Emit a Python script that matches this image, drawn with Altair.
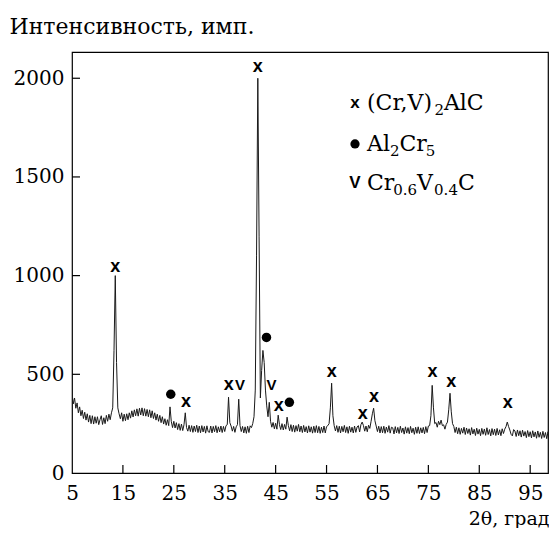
import altair as alt
import pandas as pd

# --- XRD pattern, intensities at 0.25 degree steps, by segment start angle ---
segments = [
    (5.0, [405, 350, 380, 328, 355, 305, 335, 290, 318, 276, 308, 268]),
    (8.0, [300, 258, 292, 250, 290, 248, 285, 252]),
    (10.0, [285, 245, 270, 290, 246, 280, 250, 292]),
    (12.0, [262, 298, 270, 305, 330, 620, 1000, 560, 330, 300]),
    (14.5, [275, 305, 262, 298, 265, 300]),
    (16.0, [270, 305, 278, 315, 284, 320, 290, 325]),
    (18.0, [288, 328, 294, 330, 290, 326, 288, 322]),
    (20.0, [285, 320, 280, 315, 276, 305, 268, 298]),
    (22.0, [262, 292, 255, 285, 248, 275, 242, 270]),
    (24.0, [240, 335, 262, 230]),
    (25.0, [262, 228, 255, 220, 250, 216, 248, 215]),
    (27.0, [245, 305, 230, 212]),
    (28.0, [242, 210, 240, 206, 238, 210, 242, 205]),
    (30.0, [238, 204, 240, 208, 236, 202, 239, 209]),
    (32.0, [206, 238, 203, 236, 209, 240, 204, 234]),
    (34.0, [208, 238, 205, 236, 210, 240, 245, 384, 255, 238, 212, 236, 206, 234, 245, 374, 240, 210]),
    (38.5, [236, 203, 234, 201, 237, 205, 239, 230]),
    (40.5, [250, 285, 420, 1100, 2000, 1200, 380, 520, 621, 560, 420, 340, 285, 358, 262,
            232, 256, 224, 252, 222, 293, 245, 220, 250, 218, 246, 222, 283, 240, 214]),
    (48.0, [245, 210, 242, 207, 240, 212, 246, 209]),
    (50.0, [238, 205, 241, 208, 235, 203, 239, 207]),
    (52.0, [234, 202, 237, 205, 240, 204, 236, 201]),
    (54.0, [232, 205, 238, 203, 235, 240, 250, 330, 455, 290, 240, 213]),
    (57.0, [240, 206, 237, 203, 236, 209, 241, 205]),
    (59.0, [234, 201, 237, 207, 232, 203, 238, 206]),
    (61.0, [233, 240, 208, 245, 258, 240, 212, 238, 209, 242, 226, 262, 300, 328, 265, 238, 210, 237, 203, 235]),
    (66.0, [204, 237, 201, 233, 207, 240, 202, 232]),
    (68.0, [229, 198, 235, 203, 231, 200, 237, 205]),
    (70.0, [228, 197, 234, 202, 230, 199, 236, 204]),
    (72.0, [227, 196, 232, 201, 234, 200, 229, 203]),
    (74.0, [231, 199, 235, 205, 238, 240, 290, 444, 330, 250, 256, 232, 262, 245, 268, 240, 244, 222,
            246, 258, 320, 404, 310, 250, 236, 205, 232, 199]),
    (81.0, [229, 196, 226, 202, 232, 195, 228, 200]),
    (83.0, [224, 192, 230, 198, 222, 190, 227, 197]),
    (85.0, [221, 189, 226, 196, 223, 191, 229, 195]),
    (87.0, [220, 188, 225, 194, 222, 190, 226, 193]),
    (89.0, [219, 189, 224, 200, 222, 235, 258, 236, 218, 196, 188, 220]),
    (92.0, [213, 185, 218, 189, 214, 182, 217, 187]),
    (94.0, [210, 179, 215, 184, 209, 178, 214, 183]),
    (96.0, [208, 176, 213, 181, 206, 175, 211, 180]),
    (98.0, [205, 174, 209, 179, 204, 177, 207]),
]

# phase marks: angle and height of the mark
x_mark_angle = [13.5, 27.4, 35.8, 41.5, 45.6, 56.0, 62.1, 64.3, 75.8, 79.5, 90.6]
x_mark_y = [1045, 358, 444, 2055, 338, 510, 298, 384, 510, 460, 354]
dot_mark_angle = [24.4, 43.2, 47.7]
dot_mark_y = [399, 687, 358]
v_mark_angle = [38.0, 44.2]
v_mark_y = [444, 444]

# legend: symbol, label pieces (text, is_subscript), row height in intensity units
legend_symbols = ["x", "●", "V"]
legend_parts = [
    [("(Cr,V)", False), ("2", True), ("AlC", False)],
    [("Al", False), ("2", True), ("Cr", False), ("5", True)],
    [("Cr", False), ("0.6", True), ("V", False), ("0.4", True), ("C", False)],
]
legend_y = [1874, 1667, 1470]

x_ticks = [5, 15, 25, 35, 45, 55, 65, 75, 85, 95]
y_ticks = [0, 500, 1000, 1500, 2000]

rows = []
for start, vals in segments:
    for i, v in enumerate(vals):
        rows.append({"angle": start + 0.25 * i, "intensity": v})
df = pd.DataFrame(rows).sort_values("angle")

W, H = 476, 421
XMIN, XMAX = 5, 98.5
PX_PER_DEG = W / (XMAX - XMIN)
xs = alt.Scale(domain=[XMIN, XMAX], nice=False, zero=False)
ys = alt.Scale(domain=[0, 2133], nice=False, zero=True)
SERIF = "DejaVu Serif"
SANS = "Liberation Sans"
TICK_FS = 20
MAIN_FS, SUB_FS = 22, 15

# layout of legend label pieces (DejaVu Serif advance widths, em units)
adv = {"(": .390, ")": .390, "C": .715, "r": .478, ",": .318, "V": .772, "A": .722, "l": .320,
       ".": .318, "0": .636, "2": .636, "4": .636, "5": .636, "6": .636}
SYM_ANGLE = 5 + (355 - 72) / PX_PER_DEG
TXT_ANGLE = 5 + (367 - 72) / PX_PER_DEG
leg_rows = []
for parts, yv in zip(legend_parts, legend_y):
    off = 0.0
    for txt, sub in parts:
        fs = SUB_FS if sub else MAIN_FS
        leg_rows.append({"angle": TXT_ANGLE + off / PX_PER_DEG, "intensity": yv, "t": txt, "sub": sub})
        off += sum(adv.get(c, .6) for c in txt) * fs
leg_df = pd.DataFrame(leg_rows)
sym_df = pd.DataFrame({"angle": [SYM_ANGLE] * 3, "intensity": legend_y, "sym": legend_symbols})

line = alt.Chart(df).mark_line(color="#1a1a1a", strokeWidth=1, clip=True).encode(
    x=alt.X("angle:Q", scale=xs, axis=alt.Axis(
        values=x_ticks, format="d", tickSize=0, domain=False, grid=False, labelFont=SERIF,
        labelFontSize=TICK_FS, labelColor="black", labelPadding=10, labelFlush=False, labelOverlap=False,
        title="2θ, град", titleFont=SERIF, titleFontSize=19, titleFontWeight="normal", titleColor="black",
        titleAnchor="end", titleAlign="right", titleX=W + 1, titleY=51, titleBaseline="alphabetic")),
    y=alt.Y("intensity:Q", scale=ys, axis=alt.Axis(
        values=y_ticks, format="d", tickSize=0, domain=False, grid=False, labelFont=SERIF,
        labelFontSize=TICK_FS, labelColor="black", labelPadding=8, labelFlush=False, labelOverlap=False,
        title="Интенсивность, имп.", titleFont=SERIF, titleFontSize=22, titleFontWeight="normal",
        titleColor="black", titleAngle=0, titleAlign="left", titleX=-63, titleY=-19,
        titleBaseline="alphabetic")),
)

X = alt.X("angle:Q", scale=xs)
Y = alt.Y("intensity:Q", scale=ys)

xt = alt.Chart(pd.DataFrame({"angle": x_ticks[1:]})).mark_rule(color="black", strokeWidth=1.2).encode(
    x=X, y=alt.value(H), y2=alt.value(H - 8))
yt = alt.Chart(pd.DataFrame({"intensity": y_ticks[1:]})).mark_rule(color="black", strokeWidth=1.2).encode(
    y=Y, x=alt.value(0), x2=alt.value(8))

xm = alt.Chart(pd.DataFrame({"angle": x_mark_angle, "intensity": x_mark_y, "s": ["x"] * len(x_mark_angle)})).mark_text(
    font=SANS, fontWeight="bold", fontSize=18, baseline="middle", align="center", color="black").encode(
    x=X, y=Y, text="s:N")
vm = alt.Chart(pd.DataFrame({"angle": v_mark_angle, "intensity": v_mark_y, "s": ["V"] * len(v_mark_angle)})).mark_text(
    font=SANS, fontWeight="bold", fontSize=15, baseline="middle", align="center", color="black").encode(
    x=X, y=Y, text="s:N")
dm = alt.Chart(pd.DataFrame({"angle": dot_mark_angle, "intensity": dot_mark_y})).mark_point(
    filled=True, shape="circle", size=90, color="black", opacity=1).encode(x=X, y=Y)

leg_sym_txt = alt.Chart(sym_df[sym_df["sym"] != "●"]).mark_text(
    font=SANS, fontWeight="bold", fontSize=17, baseline="middle", align="center", color="black").encode(
    x=X, y=Y, text="sym:N")
leg_dot = alt.Chart(sym_df[sym_df["sym"] == "●"]).mark_point(
    filled=True, shape="circle", size=85, color="black", opacity=1).encode(x=X, y=Y)
leg_main = alt.Chart(leg_df[~leg_df["sub"]]).mark_text(
    font=SERIF, fontSize=MAIN_FS, baseline="middle", align="left", color="black").encode(
    x=X, y=Y, text="t:N")
leg_sub = alt.Chart(leg_df[leg_df["sub"]]).mark_text(
    font=SERIF, fontSize=SUB_FS, baseline="middle", align="left", color="black", dy=7).encode(
    x=X, y=Y, text="t:N")

chart = alt.layer(line, xt, yt, xm, vm, dm, leg_sym_txt, leg_dot, leg_main, leg_sub).properties(
    width=W, height=H,
    padding={"left": 64, "top": 44, "right": 1, "bottom": 55},
    autosize=alt.AutoSizeParams(type="none"),
    background="white",
).configure_view(stroke="black", strokeWidth=1.2)

chart.save("out.html", embed_options={"renderer": "svg", "actions": False})
